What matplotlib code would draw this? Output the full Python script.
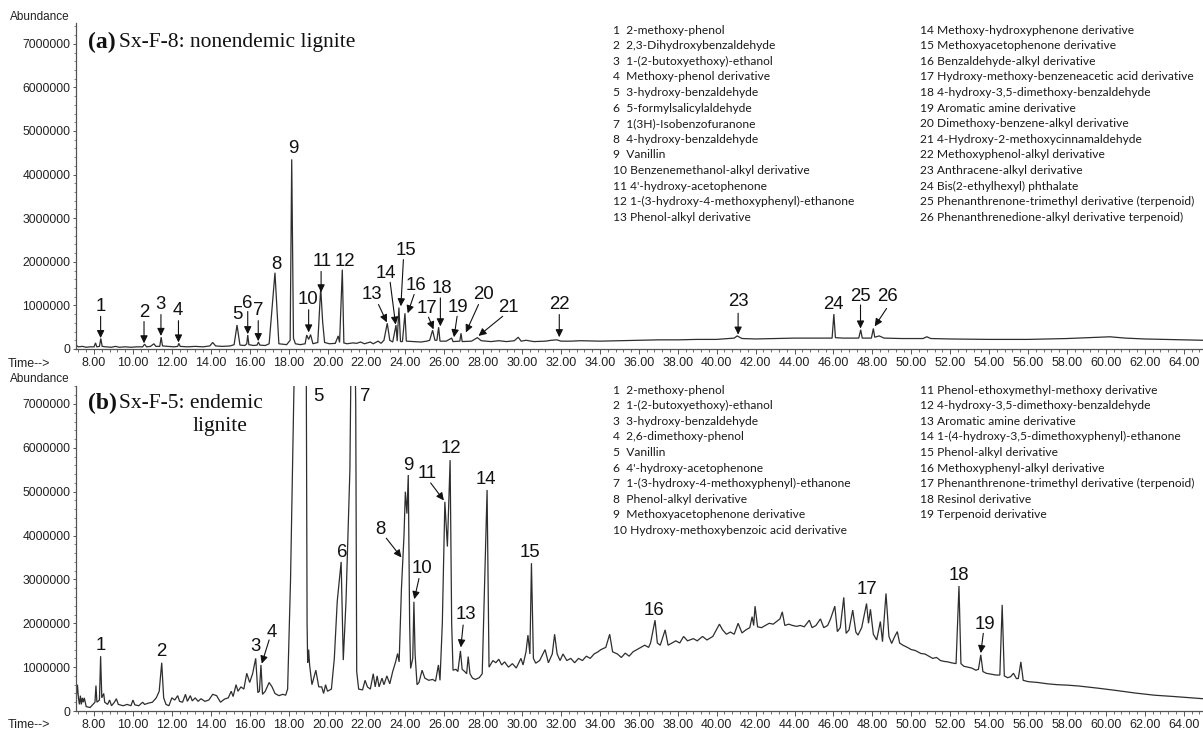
import numpy as np
import matplotlib
matplotlib.use("Agg")
import matplotlib.pyplot as plt
from matplotlib.ticker import MultipleLocator, FuncFormatter

# ---------------- data ----------------
# Panel (a): Sx-F-8 total ion chromatogram (time in min, abundance in millions)
a_time = [7.07, 7.12, 7.2, 7.4, 7.6, 7.8, 8.0, 8.08, 8.14, 8.28, 8.35, 8.42, 8.6, 8.9,
          9.1, 9.3, 9.6, 9.9, 10.2, 10.5, 10.6, 10.7, 10.9, 11.08, 11.18, 11.38, 11.45,
          11.52, 11.8, 12.1, 12.3, 12.36, 12.43, 12.8, 13.2, 13.6, 13.95, 14.1, 14.25,
          14.6, 15.0, 15.2, 15.35, 15.5, 15.75, 15.85, 15.9, 15.96, 16.2, 16.38, 16.45,
          16.52, 16.8, 17.0, 17.3, 17.5, 17.9, 18.08, 18.16, 18.25, 18.35, 18.6, 18.85,
          18.93, 19.03, 19.13, 19.25, 19.5, 19.65, 19.75, 19.85, 20.1, 20.4, 20.55, 20.62,
          20.76, 20.84, 21.0, 21.3, 21.5, 21.7, 21.9, 22.2, 22.35, 22.6, 22.75, 22.9,
          23.07, 23.2, 23.35, 23.52, 23.58, 23.67, 23.75, 23.85, 23.98, 24.05, 24.4, 24.8,
          25.1, 25.25, 25.4, 25.52, 25.62, 25.71, 25.78, 26.1, 26.38, 26.45, 26.8, 26.86,
          26.92, 27.4, 27.7, 27.9, 28.4, 28.8, 29.2, 29.6, 29.8, 29.95, 30.2, 30.6, 31.2,
          31.5, 31.78, 32.0, 32.5, 33.0, 34.0, 35.0, 36.0, 37.0, 38.0, 39.0, 40.0, 40.9,
          41.05, 41.3, 42.0, 43.0, 44.0, 45.0, 45.93, 46.02, 46.1, 46.5, 47.3, 47.4, 47.48,
          47.95, 48.05, 48.12, 48.35, 48.6, 49.5, 50.6, 50.8, 51.0, 52.0, 54.0, 56.0,
          58.0, 60.2, 61.0, 62.0, 64.0, 65.0]
a_abund_M = [0.12, 0.07, 0.05, 0.06, 0.04, 0.05, 0.05, 0.14, 0.05, 0.06, 0.24, 0.06, 0.05,
             0.04, 0.06, 0.04, 0.05, 0.04, 0.05, 0.05, 0.11, 0.05, 0.06, 0.12, 0.06, 0.06,
             0.27, 0.07, 0.06, 0.05, 0.06, 0.13, 0.06, 0.05, 0.06, 0.05, 0.07, 0.15, 0.07,
             0.06, 0.07, 0.10, 0.55, 0.09, 0.08, 0.12, 0.32, 0.10, 0.08, 0.09, 0.16, 0.09,
             0.08, 0.12, 1.75, 0.12, 0.10, 0.20, 4.35, 0.25, 0.12, 0.10, 0.12, 0.32, 0.22,
             0.33, 0.12, 0.15, 1.40, 0.62, 0.15, 0.12, 0.13, 0.30, 0.15, 1.82, 0.14, 0.12,
             0.14, 0.13, 0.16, 0.12, 0.16, 0.12, 0.18, 0.13, 0.20, 0.59, 0.20, 0.16, 0.55,
             0.18, 0.95, 0.17, 0.17, 0.82, 0.18, 0.17, 0.16, 0.18, 0.20, 0.43, 0.20, 0.20,
             0.50, 0.18, 0.18, 0.25, 0.17, 0.18, 0.36, 0.17, 0.18, 0.26, 0.19, 0.17, 0.19,
             0.17, 0.19, 0.27, 0.18, 0.20, 0.17, 0.18, 0.20, 0.21, 0.18, 0.18, 0.19, 0.18,
             0.19, 0.20, 0.21, 0.21, 0.22, 0.22, 0.25, 0.30, 0.24, 0.23, 0.24, 0.25, 0.25,
             0.25, 0.80, 0.26, 0.25, 0.25, 0.44, 0.25, 0.25, 0.47, 0.27, 0.30, 0.25, 0.24,
             0.24, 0.28, 0.24, 0.23, 0.22, 0.22, 0.24, 0.28, 0.25, 0.23, 0.21, 0.20]

# Panel (b): Sx-F-5 total ion chromatogram (time in min, abundance in millions)
b_time = [7.07, 7.1, 7.15, 7.2, 7.25, 7.3, 7.35, 7.4, 7.45, 7.5, 7.6, 7.8, 7.95, 8.05, 8.1,
          8.15, 8.28, 8.34, 8.4, 8.5, 8.55, 8.7, 8.8, 8.9, 9.05, 9.15, 9.25, 9.5, 9.7, 9.9,
          10.0, 10.1, 10.3, 10.5, 10.6, 10.8, 11.0, 11.2, 11.35, 11.48, 11.58, 11.7, 11.85,
          12.0, 12.15, 12.3, 12.4, 12.55, 12.7, 12.8, 12.95, 13.05, 13.2, 13.35, 13.5, 13.7,
          13.9, 14.1, 14.3, 14.5, 14.7, 14.9, 15.05, 15.15, 15.3, 15.4, 15.55, 15.7, 15.85,
          16.0, 16.15, 16.31, 16.42, 16.5, 16.58, 16.66, 16.8, 17.0, 17.15, 17.3, 17.5,
          17.7, 17.85, 17.95, 18.1, 18.28, 18.6, 18.9, 18.95, 18.98, 19.03, 19.08, 19.2,
          19.4, 19.55, 19.7, 19.8, 19.9, 20.0, 20.2, 20.35, 20.5, 20.7, 20.81, 20.95, 21.15,
          21.3, 21.45, 21.5, 21.6, 21.8, 21.93, 22.05, 22.2, 22.35, 22.45, 22.55, 22.65,
          22.8, 22.9, 23.05, 23.2, 23.35, 23.5, 23.6, 23.68, 23.8, 23.87, 23.93, 24.0,
          24.08, 24.15, 24.22, 24.27, 24.38, 24.44, 24.5, 24.6, 24.7, 24.86, 25.0, 25.2,
          25.4, 25.55, 25.7, 25.78, 25.9, 26.03, 26.16, 26.3, 26.38, 26.45, 26.6, 26.7,
          26.83, 26.92, 27.05, 27.15, 27.23, 27.32, 27.45, 27.6, 27.8, 27.95, 28.05, 28.2,
          28.3, 28.5, 28.65, 28.8, 28.95, 29.1, 29.3, 29.5, 29.7, 29.94, 30.05, 30.2,
          30.3, 30.4, 30.48, 30.58, 30.7, 30.9, 31.18, 31.35, 31.55, 31.67, 31.8, 31.95,
          32.1, 32.3, 32.5, 32.7, 32.9, 33.1, 33.3, 33.5, 33.7, 33.9, 34.05, 34.3, 34.5,
          34.65, 34.9, 35.1, 35.3, 35.5, 35.7, 35.9, 36.1, 36.3, 36.5, 36.6, 36.83, 36.95,
          37.1, 37.35, 37.5, 37.7, 37.9, 38.1, 38.3, 38.5, 38.8, 39.0, 39.27, 39.5, 39.8,
          40.14, 40.3, 40.5, 40.7, 40.9, 41.1, 41.3, 41.5, 41.7, 41.82, 41.9, 41.97, 42.1,
          42.3, 42.5, 42.7, 42.9, 43.1, 43.25, 43.37, 43.5, 43.7, 43.9, 44.1, 44.3, 44.5,
          44.76, 44.9, 45.1, 45.33, 45.5, 45.7, 45.85, 46.07, 46.2, 46.35, 46.53, 46.65,
          46.8, 46.99, 47.15, 47.26, 47.45, 47.7, 47.8, 47.9, 48.05, 48.22, 48.41, 48.52,
          48.7, 48.85, 48.99, 49.15, 49.28, 49.4, 49.57, 49.8, 50.0, 50.2, 50.5, 50.7, 50.9,
          51.1, 51.3, 51.5, 51.7, 51.88, 52.05, 52.3, 52.45, 52.55, 52.7, 52.9, 53.1, 53.32,
          53.45, 53.57, 53.68, 53.85, 54.1, 54.35, 54.55, 54.67, 54.78, 54.95, 55.1, 55.25,
          55.4, 55.5, 55.63, 55.75, 56.0, 56.5, 57.0, 57.5, 58.0, 58.6, 59.0, 59.6, 60.5,
          61.5, 62.5, 63.5, 64.7, 65.0]
b_abund_M = [0.60, 0.35, 0.60, 0.30, 0.15, 0.35, 0.15, 0.30, 0.20, 0.30, 0.10, 0.08, 0.15,
             0.20, 0.58, 0.20, 0.25, 1.25, 0.30, 0.40, 0.20, 0.15, 0.25, 0.12, 0.20, 0.28,
             0.15, 0.12, 0.15, 0.12, 0.25, 0.14, 0.12, 0.20, 0.15, 0.18, 0.20, 0.30, 0.45,
             1.10, 0.30, 0.15, 0.12, 0.30, 0.25, 0.35, 0.22, 0.20, 0.38, 0.22, 0.35, 0.23,
             0.30, 0.22, 0.28, 0.22, 0.25, 0.38, 0.35, 0.20, 0.27, 0.30, 0.45, 0.33, 0.60,
             0.45, 0.55, 0.50, 0.86, 0.65, 0.85, 1.20, 0.42, 0.45, 1.05, 0.38, 0.45, 0.65,
             0.55, 0.40, 0.35, 0.38, 0.36, 0.50, 3.00, 7.50, 14.0, 9.00, 2.00, 1.10, 1.40,
             1.05, 0.60, 0.93, 0.55, 0.55, 0.40, 0.60, 0.45, 0.50, 1.20, 2.50, 3.40, 1.16,
             2.50, 5.50, 12.0, 7.00, 0.90, 0.50, 0.48, 0.70, 0.55, 0.50, 0.85, 0.55, 0.80,
             0.55, 0.75, 0.60, 0.80, 0.62, 0.90, 1.12, 1.31, 1.12, 2.80, 3.44, 4.00, 5.00,
             4.50, 5.38, 2.00, 0.97, 1.20, 2.49, 1.30, 0.60, 0.65, 0.93, 0.75, 0.70, 0.72,
             0.68, 1.05, 0.70, 2.00, 4.77, 3.75, 5.72, 2.00, 0.93, 0.95, 0.90, 1.37, 0.95,
             0.90, 0.85, 1.24, 0.85, 0.75, 0.72, 0.76, 0.85, 2.50, 5.04, 1.00, 1.15, 1.10,
             1.18, 1.05, 1.12, 1.00, 1.08, 0.98, 1.20, 1.05, 1.35, 1.73, 1.30, 3.37, 1.20,
             1.09, 1.15, 1.40, 1.10, 1.30, 1.75, 1.30, 1.15, 1.30, 1.15, 1.20, 1.10, 1.20,
             1.15, 1.25, 1.20, 1.30, 1.35, 1.40, 1.45, 1.75, 1.35, 1.30, 1.22, 1.32, 1.25,
             1.35, 1.40, 1.45, 1.50, 1.45, 1.55, 2.07, 1.55, 1.50, 1.85, 1.50, 1.55, 1.60,
             1.55, 1.70, 1.60, 1.65, 1.60, 1.70, 1.62, 1.70, 1.98, 1.85, 1.75, 1.80, 1.75,
             2.00, 1.78, 1.85, 1.90, 2.15, 1.95, 2.39, 1.92, 1.90, 1.95, 2.00, 1.98, 2.05,
             2.10, 2.26, 1.95, 1.98, 1.95, 1.93, 1.95, 1.92, 2.07, 1.90, 1.95, 2.10, 1.90,
             1.95, 2.10, 2.39, 1.81, 1.90, 2.59, 1.77, 1.85, 2.30, 1.80, 1.73, 1.90, 2.45,
             2.00, 2.32, 1.75, 1.62, 2.04, 1.58, 2.68, 1.70, 1.54, 1.70, 1.81, 1.55, 1.50,
             1.45, 1.40, 1.38, 1.31, 1.30, 1.25, 1.20, 1.22, 1.15, 1.13, 1.12, 1.10, 1.08,
             2.85, 1.08, 1.02, 1.00, 0.98, 0.93, 0.95, 1.28, 0.90, 0.86, 0.84, 0.82, 0.82,
             2.42, 0.80, 0.76, 0.78, 0.86, 0.74, 0.74, 1.12, 0.70, 0.67, 0.65, 0.62, 0.60,
             0.59, 0.57, 0.55, 0.52, 0.47, 0.41, 0.36, 0.33, 0.29, 0.28]

a_compounds = ["2-methoxy-phenol", "2,3-Dihydroxybenzaldehyde", "1-(2-butoxyethoxy)-ethanol",
               "Methoxy-phenol derivative", "3-hydroxy-benzaldehyde", "5-formylsalicylaldehyde",
               "1(3H)-Isobenzofuranone", "4-hydroxy-benzaldehyde", "Vanillin",
               "Benzenemethanol-alkyl derivative", "4'-hydroxy-acetophenone",
               "1-(3-hydroxy-4-methoxyphenyl)-ethanone", "Phenol-alkyl derivative",
               "Methoxy-hydroxyphenone derivative", "Methoxyacetophenone derivative",
               "Benzaldehyde-alkyl derivative", "Hydroxy-methoxy-benzeneacetic acid derivative",
               "4-hydroxy-3,5-dimethoxy-benzaldehyde", "Aromatic amine derivative",
               "Dimethoxy-benzene-alkyl derivative", "4-Hydroxy-2-methoxycinnamaldehyde",
               "Methoxyphenol-alkyl derivative", "Anthracene-alkyl derivative",
               "Bis(2-ethylhexyl) phthalate", "Phenanthrenone-trimethyl derivative (terpenoid)",
               "Phenanthrenedione-alkyl derivative terpenoid)"]
b_compounds = ["2-methoxy-phenol", "1-(2-butoxyethoxy)-ethanol", "3-hydroxy-benzaldehyde",
               "2,6-dimethoxy-phenol", "Vanillin", "4'-hydroxy-acetophenone",
               "1-(3-hydroxy-4-methoxyphenyl)-ethanone", "Phenol-alkyl derivative",
               "Methoxyacetophenone derivative", "Hydroxy-methoxybenzoic acid derivative",
               "Phenol-ethoxymethyl-methoxy derivative", "4-hydroxy-3,5-dimethoxy-benzaldehyde",
               "Aromatic amine derivative", "1-(4-hydroxy-3,5-dimethoxyphenyl)-ethanone",
               "Phenol-alkyl derivative", "Methoxyphenyl-alkyl derivative",
               "Phenanthrenone-trimethyl derivative (terpenoid)", "Resinol derivative",
               "Terpenoid derivative"]

x_ticks = [8, 10, 12, 14, 16, 18, 20, 22, 24, 26, 28, 30, 32, 34, 36, 38, 40, 42, 44, 46,
           48, 50, 52, 54, 56, 58, 60, 62, 64]
y_ticks = [0, 1000000, 2000000, 3000000, 4000000, 5000000, 6000000, 7000000]

# peak labels: (label, text pos (t, A_M), arrow start, arrow tip) -- layout
a_labels = [("1", (8.34, 0.98), (8.34, 0.75), (8.34, 0.25)),
            ("2", (10.57, 0.84), (10.57, 0.63), (10.57, 0.13)),
            ("3", (11.42, 1.02), (11.44, 0.79), (11.44, 0.30)),
            ("4", (12.31, 0.88), (12.34, 0.65), (12.34, 0.15)),
            ("5", (15.35, 0.79), None, None),
            ("6", (15.9, 1.04), (15.9, 0.86), (15.9, 0.34)),
            ("7", (16.42, 0.88), (16.44, 0.65), (16.44, 0.18)),
            ("8", (17.35, 1.93), None, None),
            ("9", (18.24, 4.59), None, None),
            ("10", (19.0, 1.13), (19.03, 0.9), (19.03, 0.38)),
            ("11", (19.72, 2.01), (19.67, 1.78), (19.67, 1.3)),
            ("12", (20.9, 2.01), None, None),
            ("13", (22.29, 1.26), (22.62, 1.02), (23.05, 0.61)),
            ("14", (23.02, 1.73), (23.22, 1.53), (23.5, 0.56)),
            ("15", (24.01, 2.26), (23.9, 2.05), (23.77, 0.98)),
            ("16", (24.54, 1.45), (24.45, 1.25), (24.12, 0.82)),
            ("17", (25.09, 0.92), (25.19, 0.73), (25.45, 0.45)),
            ("18", (25.89, 1.38), (25.8, 1.17), (25.8, 0.52)),
            ("19", (26.72, 0.96), (26.66, 0.75), (26.5, 0.27)),
            ("20", (28.02, 1.25), (27.76, 1.02), (27.11, 0.38)),
            ("21", (29.28, 0.96), (29.0, 0.75), (27.76, 0.3)),
            ("22", (31.91, 1.02), (31.91, 0.79), (31.91, 0.27)),
            ("23", (41.1, 1.09), (41.1, 0.82), (41.1, 0.33)),
            ("24", (46.0, 1.03), None, None),
            ("25", (47.39, 1.2), (47.39, 1.01), (47.39, 0.47)),
            ("26", (48.77, 1.2), (48.73, 0.93), (48.12, 0.52))]
b_labels = [("1", (8.35, 1.5), None, None),
            ("2", (11.48, 1.35), None, None),
            ("3", (16.29, 1.46), None, None),
            ("4", (17.13, 1.79), (17.0, 1.62), (16.62, 1.08)),
            ("5", (19.52, 7.17), None, None),
            ("7", (21.93, 7.17), None, None),
            ("6", (20.75, 3.61), None, None),
            ("8", (22.72, 4.14), (23.02, 3.94), (23.8, 3.5)),
            ("9", (24.17, 5.59), None, None),
            ("10", (24.84, 3.25), (24.7, 3.02), (24.46, 2.55)),
            ("11", (25.13, 5.42), (25.3, 5.2), (25.98, 4.8)),
            ("12", (26.34, 5.99), None, None),
            ("13", (27.11, 2.19), (26.97, 1.96), (26.85, 1.45)),
            ("14", (28.16, 5.27), None, None),
            ("15", (30.42, 3.61), None, None),
            ("16", (36.77, 2.3), None, None),
            ("17", (47.7, 2.76), None, None),
            ("18", (52.42, 3.1), None, None),
            ("19", (53.76, 1.98), (53.7, 1.77), (53.57, 1.32))]

# ---------------- figure ----------------
W, H = 1203, 732
fig = plt.figure(figsize=(W / 100, H / 100), dpi=100)

def box(x0, y_top, x1, y_bot):
    return [x0 / W, 1 - y_bot / H, (x1 - x0) / W, (y_bot - y_top) / H]

SANS = "Liberation Sans"
SERIF = "Liberation Serif"
LIST = "Lato"
TRACE = "#2e2e2e"
AXC = "#555555"


def style_axis(ax, ytop):
    ax.set_xlim(7.075, 64.99)
    ax.set_ylim(0, ytop)
    for s in ("top", "right"):
        ax.spines[s].set_visible(False)
    for s in ("left", "bottom"):
        ax.spines[s].set_color(AXC)
        ax.spines[s].set_linewidth(0.9)
    ax.set_xticks(x_ticks)
    ax.xaxis.set_minor_locator(MultipleLocator(0.4))
    ax.set_yticks(y_ticks)
    ax.yaxis.set_minor_locator(MultipleLocator(200000))
    ax.xaxis.set_major_formatter(FuncFormatter(lambda v, p: f"{v:.2f}"))
    ax.yaxis.set_major_formatter(FuncFormatter(lambda v, p: f"{int(round(v))}"))
    ax.tick_params(axis="x", which="major", length=3.5, width=0.7, color=AXC, pad=2.5,
                   labelsize=9, labelcolor="#222222")
    ax.tick_params(axis="x", which="minor", length=2.5, width=0.6, color=AXC)
    ax.tick_params(axis="y", which="major", length=2.5, width=0.7, color=AXC, pad=1.5,
                   labelsize=8.7, labelcolor="#222222")
    ax.tick_params(axis="y", which="minor", length=1.5, width=0.5, color=AXC)
    for lab in ax.get_xticklabels() + ax.get_yticklabels():
        lab.set_family(SANS)


def draw_labels(ax, labels):
    for text, (tx, ty), st, tip in labels:
        ax.text(tx, ty * 1e6, text, ha="center", va="center", fontsize=13.4,
                family=SANS, color="#111111", zorder=5)
        if st is not None:
            ax.annotate("", xy=(tip[0], tip[1] * 1e6), xytext=(st[0], st[1] * 1e6),
                        arrowprops=dict(arrowstyle="-|>,head_length=0.45,head_width=0.22",
                                        mutation_scale=10, lw=0.8, color="#111111",
                                        shrinkA=0, shrinkB=0), zorder=5)


def draw_list(x0, y0, start_num, names, dy=15.6):
    for i, name in enumerate(names):
        n = start_num + i
        s = f"{n}  {name}" if n < 10 else f"{n} {name}"
        fig.text(x0 / W, 1 - (y0 + i * dy) / H, s, ha="left", va="center",
                 fontsize=8.65, family=LIST, color="#1a1a1a")


# panel (a)
axa = fig.add_axes(box(76, 23, 1203, 349))
style_axis(axa, 7.477e6)
axa.plot(a_time, np.array(a_abund_M) * 1e6, color=TRACE, lw=0.9, solid_joinstyle="miter")
draw_labels(axa, a_labels)

# panel (b)
axb = fig.add_axes(box(76, 386, 1203, 711))
style_axis(axb, 7.41e6)
axb.plot(b_time, np.array(b_abund_M) * 1e6, color=TRACE, lw=0.9, solid_joinstyle="miter")
draw_labels(axb, b_labels)

# axis captions
for ycap in (17, 379):
    fig.text(10 / W, 1 - ycap / H, "Abundance", ha="left", va="center", fontsize=8.5,
             family=SANS, color="#222222")
for ycap in (364, 725):
    fig.text(8 / W, 1 - ycap / H, "Time-->", ha="left", va="center", fontsize=9,
             family=SANS, color="#222222")

# panel titles
fig.text(88 / W, 1 - 42 / H, "(a)", ha="left", va="center", fontsize=17,
         fontweight="bold", family=SERIF, color="#111111")
fig.text(119 / W, 1 - 42 / H, "Sx-F-8: nonendemic lignite", ha="left", va="center",
         fontsize=15.5, family=SERIF, color="#111111")
fig.text(88 / W, 1 - 403 / H, "(b)", ha="left", va="center", fontsize=17,
         fontweight="bold", family=SERIF, color="#111111")
fig.text(119 / W, 1 - 403 / H, "Sx-F-5: endemic", ha="left", va="center",
         fontsize=15.5, family=SERIF, color="#111111")
fig.text(220 / W, 1 - 426 / H, "lignite", ha="center", va="center",
         fontsize=15.5, family=SERIF, color="#111111")

# compound lists
draw_list(613, 30, 1, a_compounds[:13])
draw_list(920, 30, 14, a_compounds[13:])
draw_list(613, 390, 1, b_compounds[:10])
draw_list(920, 390, 11, b_compounds[10:])

fig.savefig("out.png", dpi=100)
